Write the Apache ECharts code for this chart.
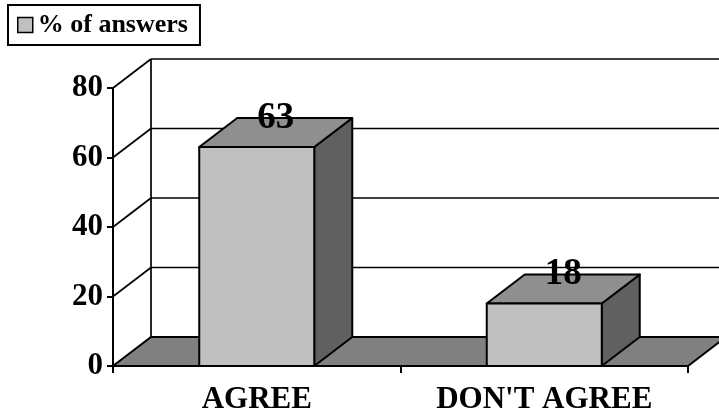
<!DOCTYPE html>
<html>
<head>
<meta charset="utf-8">
<script src="https://cdn.jsdelivr.net/npm/echarts@6/dist/echarts.min.js"></script>
<style>
  html, body { margin: 0; padding: 0; background: #fff; }
  #chart { width: 719px; height: 412px; }
</style>
</head>
<body>
<div id="chart"></div>
<script>
'use strict';

var categories = ['AGREE', "DON'T AGREE"];
var answers = [63, 18];
var yTicks = [0, 20, 40, 60, 80];

// depth of the fake 3d box, in pixels
var DX = 38, DY = -29;
var serif = 'Liberation Serif';

function renderFrame(params, api) {
    var cs = params.coordSys;
    var v = api.value(0);
    var p = api.coord([0, v]);
    var xl = cs.x, xr = cs.x + cs.width;
    var y = p[1];
    var line = { stroke: '#000', lineWidth: 1.7 };
    var children = [];
    if (v === 0) {
        children.push({
            type: 'polygon',
            shape: { points: [[xl, y], [xr, y], [xr + DX, y + DY], [xl + DX, y + DY]] },
            style: { fill: '#808080', stroke: '#000', lineWidth: 2 }
        });
        var top = api.coord([0, yTicks[yTicks.length - 1]])[1];
        children.push({
            type: 'line',
            shape: { x1: xl + DX, y1: y + DY, x2: xl + DX, y2: top + DY },
            style: line
        });
    } else {
        children.push({
            type: 'line',
            shape: { x1: xl + DX, y1: y + DY, x2: xr + DX, y2: y + DY },
            style: line
        });
        children.push({
            type: 'line',
            shape: { x1: xl, y1: y, x2: xl + DX, y2: y + DY },
            style: line
        });
    }
    return { type: 'group', children: children };
}

function renderBar(params, api) {
    var base = api.coord([api.value(0), 0]);
    var top = api.coord([api.value(0), api.value(1)]);
    var w = api.size([1, 0])[0] * 0.4;
    var x0 = base[0] - w / 2, x1 = base[0] + w / 2;
    var yb = base[1], yt = top[1];
    var edge = { stroke: '#000', lineWidth: 2, lineJoin: 'round' };
    return {
        type: 'group',
        children: [
            {
                type: 'polygon',
                shape: { points: [[x1, yt], [x1 + DX, yt + DY], [x1 + DX, yb + DY], [x1, yb]] },
                style: Object.assign({ fill: '#606060' }, edge)
            },
            {
                type: 'polygon',
                shape: { points: [[x0, yt], [x1, yt], [x1 + DX, yt + DY], [x0 + DX, yt + DY]] },
                style: Object.assign({ fill: '#8f8f8f' }, edge)
            },
            {
                type: 'rect',
                shape: { x: x0, y: yt, width: w, height: yb - yt },
                style: Object.assign({ fill: '#c0c0c0' }, edge)
            },
            {
                type: 'text',
                x: base[0] + DX / 2,
                y: yt + DY,
                style: {
                    text: String(api.value(1)),
                    fill: '#000',
                    font: 'bold 37px "' + serif + '"',
                    align: 'center',
                    verticalAlign: 'middle'
                }
            }
        ]
    };
}

var chart = echarts.init(document.getElementById('chart'));
chart.setOption({
    animation: false,
    backgroundColor: '#fff',
    legend: {
        left: 8,
        top: 5,
        selectedMode: false,
        data: [{ name: '% of answers', icon: 'rect' }],
        itemWidth: 15,
        itemHeight: 15,
        itemStyle: { color: '#c0c0c0', borderColor: '#000', borderWidth: 1.5 },
        borderColor: '#000',
        borderWidth: 2,
        padding: [7, 12, 7, 9],
        textStyle: { fontFamily: serif, fontWeight: 'bold', fontSize: 26, color: '#000' }
    },
    grid: {
        left: 113,
        right: 31,
        top: 88,
        bottom: 46,
        containLabel: false,
        outerBoundsMode: 'none'
    },
    xAxis: {
        type: 'category',
        data: categories,
        axisLine: { show: true, lineStyle: { color: '#000', width: 2 } },
        axisTick: { show: true, length: 7, lineStyle: { color: '#000', width: 2 } },
        axisLabel: { margin: 18, color: '#000', fontFamily: serif, fontWeight: 'bold', fontSize: 31 },
        splitLine: { show: false }
    },
    yAxis: {
        type: 'value',
        min: 0,
        max: 80,
        interval: 20,
        axisLine: { show: true, lineStyle: { color: '#000', width: 2 } },
        axisTick: { show: true, length: 6, lineStyle: { color: '#000', width: 2 } },
        axisLabel: { margin: 10, color: '#000', fontFamily: serif, fontWeight: 'bold', fontSize: 31 },
        splitLine: { show: false }
    },
    series: [
        {
            name: 'frame',
            type: 'custom',
            renderItem: renderFrame,
            data: yTicks.map(function (t) { return [t]; }),
            encode: { y: 0 },
            silent: true,
            z: 1
        },
        {
            name: '% of answers',
            type: 'custom',
            renderItem: renderBar,
            itemStyle: { color: '#c0c0c0' },
            data: answers.map(function (v, i) { return [i, v]; }),
            encode: { x: 0, y: 1 },
            silent: true,
            z: 2
        }
    ]
});
</script>
</body>
</html>
